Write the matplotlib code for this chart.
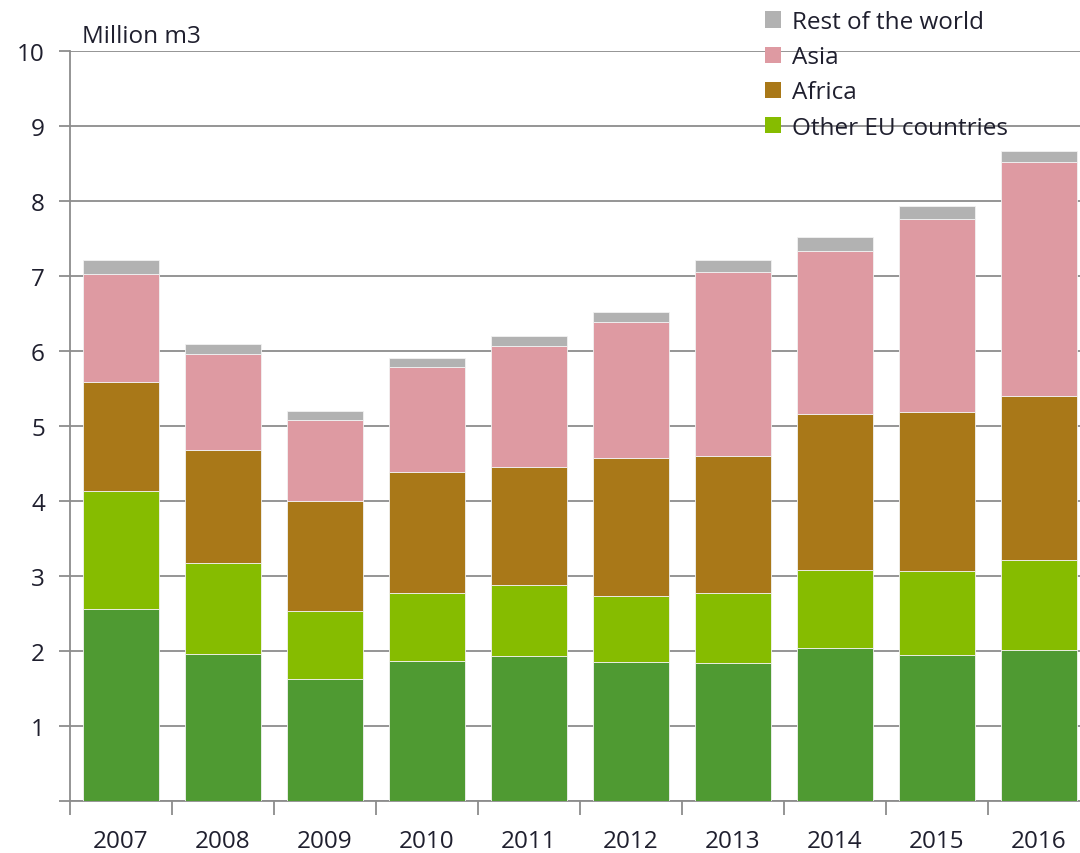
import numpy as np
import matplotlib
matplotlib.use('Agg')
import matplotlib.pyplot as plt
from matplotlib.patches import Patch

years = ['2007', '2008', '2009', '2010', '2011', '2012', '2013', '2014', '2015', '2016']

# million m3 per origin
domestic = [2.56, 1.96, 1.63, 1.87, 1.93, 1.85, 1.84, 2.04, 1.95, 2.01]
other_eu = [1.57, 1.21, 0.90, 0.90, 0.95, 0.88, 0.93, 1.04, 1.12, 1.20]
africa = [1.46, 1.51, 1.47, 1.62, 1.57, 1.84, 1.83, 2.08, 2.12, 2.19]
asia = [1.44, 1.28, 1.08, 1.40, 1.62, 1.82, 2.45, 2.17, 2.57, 3.12]
rest_world = [0.18, 0.13, 0.12, 0.12, 0.13, 0.13, 0.16, 0.19, 0.17, 0.15]

series = [
    ('Domestic', domestic, '#4f9a32'),
    ('Other EU countries', other_eu, '#86bc00'),
    ('Africa', africa, '#a97818'),
    ('Asia', asia, '#de9aa2'),
    ('Rest of the world', rest_world, '#b2b2b2'),
]

plt.rcParams['font.family'] = ['Open Sans', 'DejaVu Sans']
text_color = '#1f1f2e'
grid_color = '#8c8c8c'
fsize = 17.5

fig = plt.figure(figsize=(10.8, 8.54), dpi=100)
ax = fig.add_axes([70 / 1080, 52 / 854, 1020 / 1080, 750 / 854])

x = np.arange(len(years))
bottom = np.zeros(len(years))
for name, vals, color in series:
    ax.bar(x, vals, width=0.74, bottom=bottom, color=color,
           edgecolor='#f2f2f2', linewidth=0.6, zorder=3)
    bottom += np.array(vals)

ax.set_xlim(-0.5, len(years) - 0.5)
ax.set_ylim(0, 10)
ax.set_yticks(np.arange(0, 11, 1))
ax.set_yticklabels([''] + [str(v) for v in range(1, 11)])
ax.yaxis.grid(True, color=grid_color, linewidth=1.3, zorder=0)
ax.set_axisbelow(True)

ax.set_xticks(x)
ax.set_xticklabels(years)
ax.set_xticks(np.arange(-0.5, len(years), 1), minor=True)
ax.tick_params(axis='x', which='major', length=0, pad=20,
               labelsize=fsize, labelcolor=text_color)
ax.tick_params(axis='x', which='minor', length=10, width=1.3,
               color=grid_color, direction='out')
ax.tick_params(axis='y', length=8, width=1.3, color=grid_color,
               labelsize=fsize, labelcolor=text_color, pad=10)

for side in ['top', 'right']:
    ax.spines[side].set_visible(False)
for side in ['left', 'bottom']:
    ax.spines[side].set_color(grid_color)
    ax.spines[side].set_linewidth(1.3)

fig.text(82 / 1080, 1 - 37 / 854, 'Million m3', fontsize=fsize,
         color=text_color, va='center', ha='left')

handles = [Patch(facecolor=c, edgecolor='none', label=n)
           for n, _, c in series[1:][::-1]]
leg = fig.legend(handles=handles, loc='upper left',
                 bbox_to_anchor=(748 / 1080, 1 + 6 / 854), frameon=False,
                 fontsize=fsize, handlelength=0.65, handleheight=0.65,
                 handletextpad=0.45, labelspacing=0.46, borderpad=0.2)
for t in leg.get_texts():
    t.set_color(text_color)

fig.savefig('out.png', dpi=100)
